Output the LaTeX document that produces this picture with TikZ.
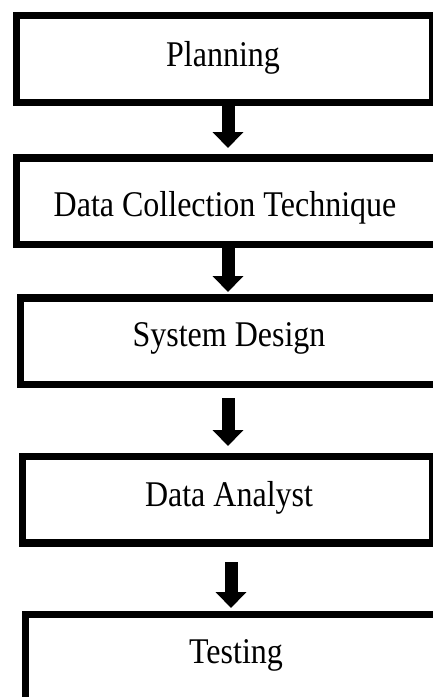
\documentclass[tikz,border=0pt]{standalone}
\usepackage{fontspec}
\setmainfont{Liberation Serif}
\usetikzlibrary{arrows.meta}
\tikzset{
  stagebox/.style={draw=black, line width=7.5pt, rectangle, inner sep=0pt},
  label/.style={inner sep=0pt, anchor=base, font=\fontsize{32}{38}\selectfont},
  flow/.style={line width=13pt, -{Triangle[width=30pt,length=16pt]}}
}
\newcommand{\tall}[1]{\scalebox{1}[1.13]{#1}}
\begin{document}
\begin{tikzpicture}[x=1pt,y=-1pt]
\useasboundingbox (0,0) rectangle (433,697);
\fill[white] (0,0) rectangle (433,697);
\clip (0,0) rectangle (433,697);
% boxes
\node[stagebox, minimum width=416pt, minimum height=87pt] (b1) at (224.5,59) {};
\node[stagebox, minimum width=428.5pt, minimum height=86.5pt] (b2) at (230.75,201.25) {};
\node[stagebox, minimum width=424.5pt, minimum height=86.5pt] (b3) at (232.75,341.25) {};
\node[stagebox, minimum width=410pt, minimum height=86.5pt] (b4) at (227.5,499.75) {};
\node[stagebox, minimum width=419.5pt, minimum height=87.5pt] (b5) at (235.25,658.25) {};
% texts
\node[label] (t1) at (223,66.7) {\tall{Planning}};
\node[label] (t2) at (225,216.7) {\tall{Data Collection Technique}};
\node[label] (t3) at (229,346.5) {\tall{System Design}};
\node[label] (t4) at (229,506) {\tall{Data Analyst}};
\node[label] (t5) at (236,663) {\tall{Testing}};
% arrows
\coordinate (a1) at (228,0);
\coordinate (a2) at (228,0);
\coordinate (a3) at (228,0);
\coordinate (a4) at (231,0);
\draw[flow, shorten >=6.25pt] (b1.south -| a1) -- (b2.north -| a1);
\draw[flow, shorten >=2.25pt] (b2.south -| a2) -- (b3.north -| a2);
\draw[flow, shorten <=9.75pt, shorten >=6.75pt] (b3.south -| a3) -- (b4.north -| a3);
\draw[flow, shorten <=15.25pt, shorten >=2.75pt] (b4.south -| a4) -- (b5.north -| a4);
\end{tikzpicture}
\end{document}
